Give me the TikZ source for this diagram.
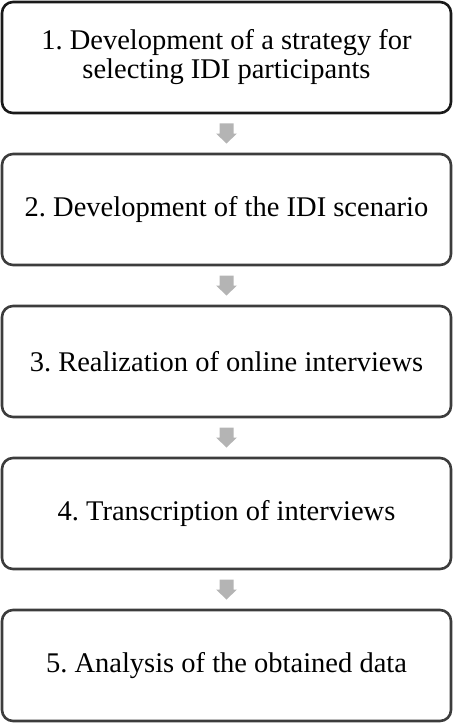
\documentclass[tikz,border=0pt]{standalone}
\usepackage{fontspec}
\setmainfont{Liberation Serif}
\usetikzlibrary{calc}
\definecolor{boxgray}{HTML}{3C3C3C}
\definecolor{arrgray}{HTML}{B4B4B4}
\tikzset{
  stepbox/.style={draw=boxgray, line width=2.6bp, rounded corners=11bp, fill=white,
    minimum width=449bp, minimum height=111bp, align=center, inner sep=0pt,
    font=\fontsize{28.5bp}{29bp}\selectfont\frenchspacing},
  firstbox/.style={stepbox, draw=black!90},
  blockarrow/.style={fill=arrgray, draw=none}
}
\newcommand{\flowarrow}[2]{%
  \path (#1.south) -- (#2.north) coordinate[pos=0.5] (m#1#2);
  \fill[blockarrow] ($(m#1#2)+(-7,-10)$) -- ($(m#1#2)+(7,-10)$) -- ($(m#1#2)+(7,0)$)
    -- ($(m#1#2)+(10.5,0)$) -- ($(m#1#2)+(0,10)$) -- ($(m#1#2)+(-10.5,0)$)
    -- ($(m#1#2)+(-7,0)$) -- cycle;}
\begin{document}
\begin{tikzpicture}[x=1bp,y=-1bp]
\useasboundingbox (0,0) rectangle (453,723);
\node[firstbox] (b1) at (226.5,57.5) {1. Development of a strategy for\\selecting IDI participants};
\node[stepbox] (b2) at (226.5,209.5) {2. Development of the IDI scenario};
\node[stepbox] (b3) at (226.5,361.5) {3. Realization of online interviews};
\node[stepbox] (b4) at (226.5,513.5) {4. Transcription of interviews};
\node[stepbox] (b5) at (226.5,665.5) {5. Analysis of the obtained data};
\flowarrow{b1}{b2}
\flowarrow{b2}{b3}
\flowarrow{b3}{b4}
\flowarrow{b4}{b5}
\end{tikzpicture}
\end{document}
